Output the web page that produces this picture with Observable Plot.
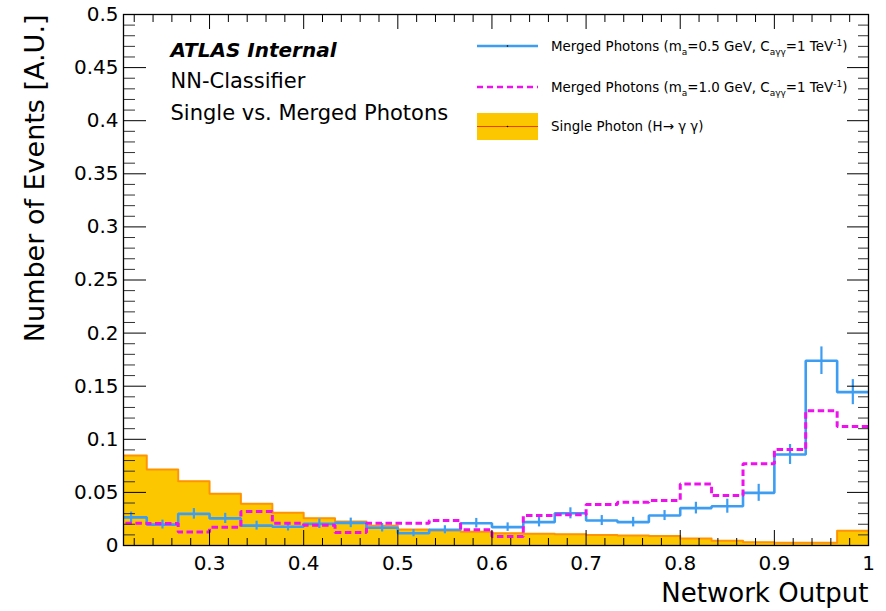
<!DOCTYPE html>
<html><head><meta charset="utf-8">
<script src="https://cdn.jsdelivr.net/npm/d3@7"></script>
<script src="https://cdn.jsdelivr.net/npm/@observablehq/plot@0.6"></script>
<style>
html,body{margin:0;padding:0;background:#fff;}
#chart svg{display:block;}
</style></head><body><div id="chart"></div>
<script>
// Bin edges of the histogram (network output)
const binEdges = [0.2, 0.2333, 0.2667, 0.3, 0.3333, 0.3667, 0.4, 0.4333, 0.4667, 0.5,
  0.5333, 0.5667, 0.6, 0.6333, 0.6667, 0.7, 0.7333, 0.7667, 0.8, 0.8333, 0.8667,
  0.9, 0.9333, 0.9667, 1.0];

// Single Photon (H -> gamma gamma)
const singlePhoton = [0.0847, 0.0716, 0.0606, 0.0487, 0.0393, 0.0308, 0.0257, 0.0226,
  0.0185, 0.0150, 0.0140, 0.0130, 0.0115, 0.0110, 0.0105, 0.0100, 0.0095, 0.0090,
  0.0065, 0.0045, 0.0030, 0.0025, 0.0025, 0.0140];

// Merged Photons m_a = 0.5 GeV
const merged05 = [0.0265, 0.0197, 0.0298, 0.0255, 0.0187, 0.0176, 0.0204, 0.0213,
  0.0167, 0.0116, 0.0148, 0.0210, 0.0173, 0.0220, 0.0303, 0.0235, 0.0220, 0.0282,
  0.0352, 0.0370, 0.0496, 0.0857, 0.1740, 0.1444];
const merged05Err = [0.0050, 0.0042, 0.0050, 0.0048, 0.0042, 0.0040, 0.0044, 0.0045,
  0.0040, 0.0034, 0.0038, 0.0045, 0.0040, 0.0045, 0.0052, 0.0047, 0.0045, 0.0047,
  0.0055, 0.0066, 0.0080, 0.0094, 0.0130, 0.0118];

// Merged Photons m_a = 1.0 GeV
const merged10 = [0.0210, 0.0206, 0.0126, 0.0173, 0.0320, 0.0210, 0.0190, 0.0122,
  0.0210, 0.0210, 0.0235, 0.0148, 0.0085, 0.0282, 0.0290, 0.0386, 0.0408, 0.0424,
  0.0580, 0.0470, 0.0770, 0.0904, 0.1270, 0.1120];

// Axis tick values and labels
const xTickValues = [0.3, 0.4, 0.5, 0.6, 0.7, 0.8, 0.9, 1.0];
const xTickLabels = ["0.3", "0.4", "0.5", "0.6", "0.7", "0.8", "0.9", "1"];
const yTickValues = [0, 0.05, 0.1, 0.15, 0.2, 0.25, 0.3, 0.35, 0.4, 0.45, 0.5];
const yTickLabels = ["0", "0.05", "0.1", "0.15", "0.2", "0.25", "0.3", "0.35", "0.4", "0.45", "0.5"];

const xLabelMap = new Map(xTickValues.map((v, i) => [v, xTickLabels[i]]));
const yLabelMap = new Map(yTickValues.map((v, i) => [v, yTickLabels[i]]));

const stepRows = (vals) => binEdges.map((x, i) => ({x, y: vals[Math.min(i, vals.length - 1)]}));
const stepSingle = stepRows(singlePhoton);
const step05 = stepRows(merged05);
const step10 = stepRows(merged10);
const errRows = merged05.map((v, i) => ({
  x: (binEdges[i] + binEdges[i + 1]) / 2, lo: v - merged05Err[i], hi: v + merged05Err[i]
}));

const xMajorInner = xTickValues.filter(v => v < 1);
const xMinor = d3.range(11, 50).map(k => k / 50).filter(v => Math.abs(v * 10 - Math.round(v * 10)) > 1e-6);
const yMajorInner = yTickValues.filter(v => v > 0 && v < 0.5);
const yMinor = d3.range(1, 50).map(k => k / 100).filter(v => Math.abs(v * 20 - Math.round(v * 20)) > 1e-6);

const W = 886, H = 611, mL = 123, mR = 18, mT = 14, mB = 66;
const fw = W - mL - mR, fh = H - mT - mB;

const BLUE = "#3d9df2", MAG = "#ee11ee", YEL = "#fdc700", ORA = "#ff9400";

const chart = Plot.plot({
  width: W, height: H,
  marginLeft: mL, marginRight: mR, marginTop: mT, marginBottom: mB,
  style: {fontFamily: "DejaVu Sans", background: "#fff", color: "#000"},
  x: {domain: [0.2086, 1], axis: null},
  y: {domain: [0, 0.5], axis: null},
  marks: [
    Plot.areaY(stepSingle, {x: "x", y: "y", curve: "step-after", fill: YEL, clip: true}),
    Plot.lineY(stepSingle, {x: "x", y: "y", curve: "step-after", stroke: ORA, strokeWidth: 2, clip: true}),
    Plot.lineY(step05, {x: "x", y: "y", curve: "step-after", stroke: BLUE, strokeWidth: 2.6,
      strokeLinecap: "butt", strokeLinejoin: "miter", clip: true}),
    Plot.ruleX(errRows, {x: "x", y1: "lo", y2: "hi", stroke: BLUE, strokeWidth: 2.2, strokeLinecap: "butt"}),
    Plot.lineY(step10, {x: "x", y: "y", curve: "step-after", stroke: MAG, strokeWidth: 3,
      strokeDasharray: "6.5,3.5", strokeLinecap: "butt", strokeLinejoin: "miter", clip: true}),
    // inward ticks (ROOT style)
    Plot.tickX(xMajorInner, {x: d => d, insetTop: fh - 15, stroke: "#000"}),
    Plot.tickX(xMinor, {x: d => d, insetTop: fh - 7, stroke: "#000"}),
    Plot.tickX(xMajorInner, {x: d => d, insetBottom: fh - 15, stroke: "#000"}),
    Plot.tickX(xMinor, {x: d => d, insetBottom: fh - 8, stroke: "#000"}),
    Plot.tickY(yMajorInner, {y: d => d, insetRight: fw - 23, stroke: "#000"}),
    Plot.tickY(yMinor, {y: d => d, insetRight: fw - 12, stroke: "#333"}),
    Plot.tickY(yMajorInner, {y: d => d, insetLeft: fw - 21, stroke: "#000"}),
    Plot.tickY(yMinor, {y: d => d, insetLeft: fw - 10, stroke: "#333"}),
    Plot.frame({stroke: "#000", strokeWidth: 1.3}),
    Plot.axisX({ticks: xTickValues, tickSize: 0, tickPadding: 10, fontSize: 20,
      tickFormat: d => xLabelMap.get(d), label: null}),
    Plot.axisY({ticks: yTickValues, tickSize: 0, tickPadding: 5, fontSize: 20,
      tickFormat: d => yLabelMap.get(d), label: null}),
    Plot.text(["Network Output"], {text: d => d, frameAnchor: "bottom-right", textAnchor: "end",
      lineAnchor: "bottom", dy: 56, fontSize: 26}),
    Plot.text(["Number of Events [A.U.]"], {text: d => d, frameAnchor: "top-left", rotate: -90,
      textAnchor: "end", lineAnchor: "middle", dx: -88, fontSize: 27}),
    Plot.text(["ATLAS Internal"], {text: d => d, frameAnchor: "top-left", textAnchor: "start",
      lineAnchor: "bottom", dx: 47, dy: 42, fontSize: 20, fontWeight: "bold", fontStyle: "italic"}),
    Plot.text(["NN-Classifier"], {text: d => d, frameAnchor: "top-left", textAnchor: "start",
      lineAnchor: "bottom", dx: 47, dy: 73, fontSize: 21}),
    Plot.text(["Single vs. Merged Photons"], {text: d => d, frameAnchor: "top-left", textAnchor: "start",
      lineAnchor: "bottom", dx: 47, dy: 105, fontSize: 21})
  ]
});

document.getElementById("chart").appendChild(chart);

// Legend (with sub/superscripts)
const svg = d3.select(chart);
const leg = svg.append("g").attr("font-family", "DejaVu Sans").attr("font-size", 13.4)
  .attr("fill", "#000").attr("text-anchor", "start");
function richText(g, x, y, parts) {
  const t = g.append("text").attr("x", x).attr("y", y).attr("text-anchor", "start");
  let cur = 0;
  for (const [s, kind] of parts) {
    const target = kind === "sub" ? 4 : kind === "sup" ? -5 : 0;
    const ts = t.append("tspan").text(s).attr("dy", target - cur);
    if (kind) ts.attr("font-size", 9);
    cur = target;
  }
  return t;
}
// row 1
leg.append("line").attr("x1", 477).attr("x2", 538).attr("y1", 46).attr("y2", 46)
  .attr("stroke", BLUE).attr("stroke-width", 2.6);
leg.append("circle").attr("cx", 507.5).attr("cy", 46).attr("r", 0.8).attr("fill", "#000");
richText(leg, 551, 51, [["Merged Photons (m"], ["a", "sub"], ["=0.5 GeV, C"], ["a\u03b3\u03b3", "sub"], ["=1 TeV"], ["-1", "sup"], [")"]]);
// row 2
leg.append("line").attr("x1", 477).attr("x2", 538).attr("y1", 87).attr("y2", 87)
  .attr("stroke", MAG).attr("stroke-width", 2.6).attr("stroke-dasharray", "6,4");
richText(leg, 551, 92, [["Merged Photons (m"], ["a", "sub"], ["=1.0 GeV, C"], ["a\u03b3\u03b3", "sub"], ["=1 TeV"], ["-1", "sup"], [")"]]);
// row 3
leg.append("rect").attr("x", 477).attr("y", 113).attr("width", 61).attr("height", 27).attr("fill", YEL);
leg.append("line").attr("x1", 477).attr("x2", 538).attr("y1", 126.5).attr("y2", 126.5)
  .attr("stroke", "#f04000").attr("stroke-width", 1);
leg.append("circle").attr("cx", 507.5).attr("cy", 126.5).attr("r", 0.8).attr("fill", "#000");
richText(leg, 551, 131, [["Single Photon (H\u2192 \u03b3 \u03b3)"]]);
</script></body></html>
